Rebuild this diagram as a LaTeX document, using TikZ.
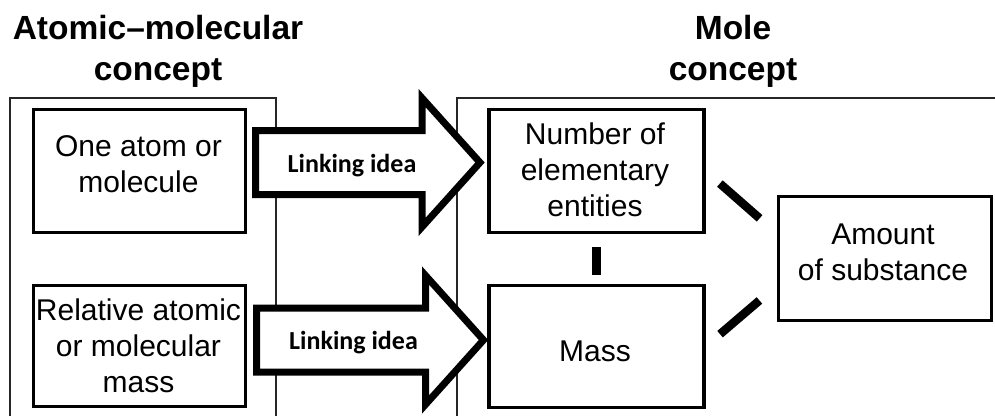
\documentclass[tikz,border=0pt]{standalone}
\usepackage{fontspec}
\setmainfont{Liberation Sans}
\newfontfamily\linkfont{Carlito}
\usetikzlibrary{calc}
\begin{document}
\begin{tikzpicture}[x=1pt,y=-1pt,
  box/.style={draw, line width=3.2pt, inner sep=0pt},
  boxtext/.style={align=center, inner sep=0pt, font=\fontsize{30}{36}\selectfont},
  ttl/.style={align=center, inner sep=0pt, font=\bfseries\fontsize{33.5}{41}\selectfont},
  frame/.style={line width=1.6pt, draw=black!85},
  bigarrow/.style={draw, line width=7pt, fill=white, line join=miter},
  linktext/.style={font=\linkfont\bfseries\fontsize{26}{30}\selectfont, anchor=base, inner sep=0pt},
  conn/.style={line width=8.5pt}
]
\useasboundingbox (0,0) rectangle (995,415);
\clip (0,0) rectangle (995,415);

% titles
\node[ttl] (t1) at (158,51) {Atomic--molecular\\concept};
\node[ttl] (t2) at (733,51.5) {Mole\\concept};

% frames
\draw[frame] (10,430) -- (10,98) -- (276,98) -- (276,430);
\draw[frame] (457,430) -- (457,98) -- (1010,98);

% boxes
\node[box, minimum width=212pt, minimum height=123pt] (a1) at (139.5,171) {};
\node[box, minimum width=212pt, minimum height=121pt] (a2) at (139.5,346) {};
\node[box, minimum width=215pt, minimum height=123pt] (n1) at (596.5,171) {};
\node[box, minimum width=215pt, minimum height=122pt] (m)  at (596.5,346.5) {};
\node[box, minimum width=213pt, minimum height=124pt] (am) at (885,258.5) {};

% box texts
\node[boxtext] (a1t) at (138.5,164.5) {One atom or\\molecule};
\node[boxtext] (a2t) at (138.5,345.3) {Relative atomic\\or molecular\\mass};
\node[boxtext] (n1t) at (595,170) {Number of\\elementary\\entities};
\node[boxtext] (mt)  at (595,351) {Mass};
\node[boxtext] (amt) at (883,252.8) {Amount\\of substance};

% linking arrows
\coordinate (p1) at (255.5,162.5);
\coordinate (p2) at (256.5,340);
\draw[bigarrow] ($(p1)+(0,-32)$) -- ++(166.5,0) -- ++(0,-32.5) -- ++(58,64.5)
  -- ++(-58,64.5) -- ++(0,-32.5) -- ++(-166.5,0) -- cycle;
\draw[bigarrow] ($(p2)+(0,-32)$) -- ++(169,0) -- ++(0,-32.5) -- ++(58,64.5)
  -- ++(-58,64.5) -- ++(0,-32.5) -- ++(-169,0) -- cycle;
\node[linktext] (l1) at (352,172) {Linking idea};
\node[linktext] (l2) at (353.5,349) {Linking idea};

% connectors
\draw[conn, shorten <=13pt, shorten >=9pt] (n1.south) -- (m.north);
\draw[conn, shorten <=19pt, shorten >=23pt] (n1.east) -- ($(am.west)+(0,-25)$);
\draw[conn, shorten <=19pt, shorten >=23pt] (m.east) -- ($(am.west)+(0,27)$);
\end{tikzpicture}
\end{document}
